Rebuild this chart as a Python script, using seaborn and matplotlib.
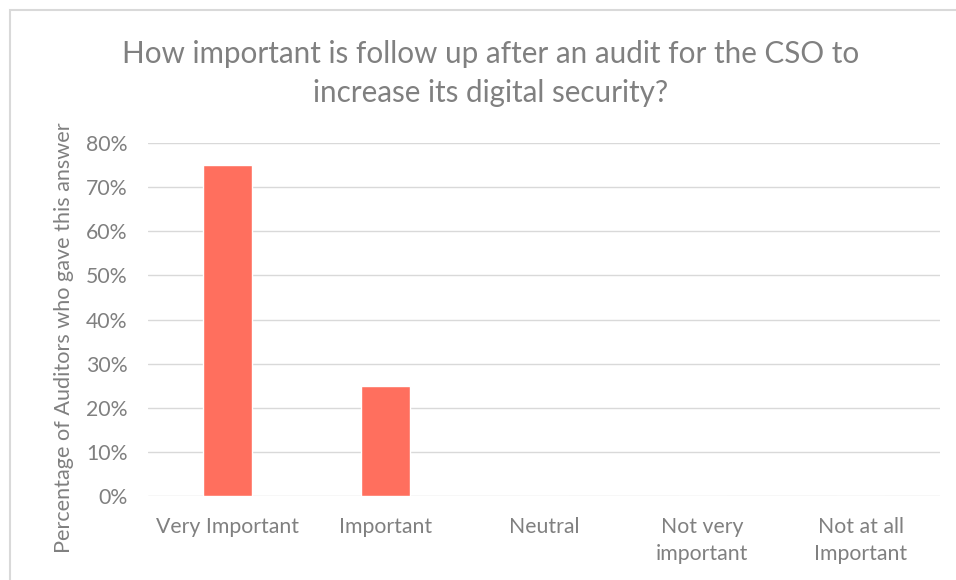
import matplotlib
matplotlib.use("Agg")
import matplotlib.pyplot as plt
import seaborn as sns
import pandas as pd
from matplotlib.patches import Rectangle
from matplotlib.ticker import PercentFormatter

categories = ["Very Important", "Important", "Neutral", "Not very\nimportant", "Not at all\nImportant"]
values = [0.75, 0.25, 0.0, 0.0, 0.0]
yticks = [0, 0.1, 0.2, 0.3, 0.4, 0.5, 0.6, 0.7, 0.8]

sns.set_theme(style="white")
plt.rcParams['font.family'] = ['Lato', 'DejaVu Sans']

gray = "#808080"
df = pd.DataFrame({"cat": categories, "val": values})

fig = plt.figure(figsize=(9.56, 5.8), dpi=100)
ax = fig.add_axes([0.155, 0.1448, 0.828, 0.6086])
sns.barplot(data=df, x="cat", y="val", color="#FF6F5E", width=0.31, saturation=1, ax=ax)

ax.set_ylim(0, 0.8)
ax.set_yticks(yticks)
ax.yaxis.set_major_formatter(PercentFormatter(1.0, decimals=0))
ax.grid(axis="y", color="#d9d9d9", linewidth=1)
ax.set_axisbelow(True)
for s in ax.spines.values():
    s.set_visible(False)
ax.tick_params(axis="both", length=0, labelsize=15.3, labelcolor=gray)
ax.tick_params(axis="y", pad=15)
ax.tick_params(axis="x", pad=15)
for lbl in ax.get_xticklabels():
    lbl.set_linespacing(1.45)
ax.set_xlabel("")
ax.set_ylabel("Percentage of Auditors who gave this answer", fontsize=15.6, color=gray, labelpad=12)
ax.yaxis.set_label_coords(-0.094, 0.449)

fig.text(0.513, 0.873, "How important is follow up after an audit for the CSO to\nincrease its digital security?",
         ha="center", va="center", fontsize=21.3, color=gray, linespacing=1.45)

fig.patches.append(Rectangle((10/956, -0.1), 1.0, 1.1 - 10/580, transform=fig.transFigure,
                             fill=False, edgecolor="#d9d9d9", linewidth=1.5))

fig.savefig("out.png", dpi=100)
